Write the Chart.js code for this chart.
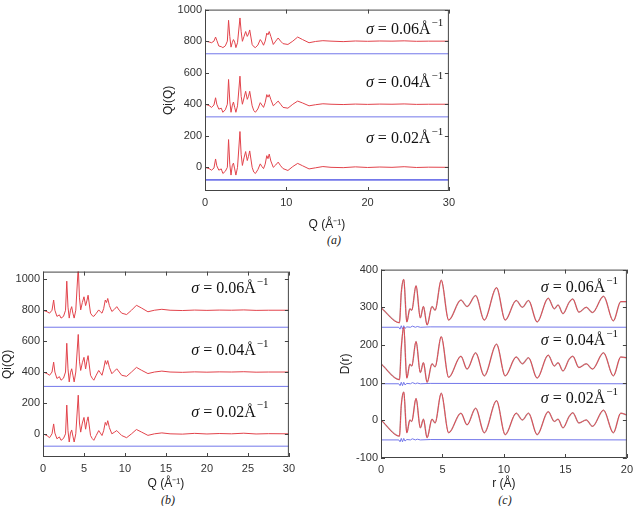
<!DOCTYPE html>
<html>
<head>
<meta charset="utf-8">
<script src="https://cdn.jsdelivr.net/npm/chart.js@4.4.0/dist/chart.umd.min.js"></script>
<style>
  body { margin: 0; background: #fff; width: 640px; height: 506px; position: relative; overflow: hidden; }
  .box { position: absolute; }
  .cap { position: absolute; font: italic 12px "Liberation Serif", serif; color: #222; transform: translate(-50%, -50%); }
</style>
</head>
<body>
<div class="box" style="left:161px;top:0px;width:299px;height:232px"><canvas id="chartA"></canvas></div>
<div class="box" style="left:0px;top:262px;width:300px;height:229px"><canvas id="chartB"></canvas></div>
<div class="box" style="left:338px;top:260px;width:300px;height:231px"><canvas id="chartC"></canvas></div>
<div class="cap" style="left:334px;top:240px">(a)</div>
<div class="cap" style="left:168px;top:500px">(b)</div>
<div class="cap" style="left:505px;top:500px">(c)</div>
<script>
// sigma labels
const sigmas = ['0.06', '0.04', '0.02'];

// Q grid shared by panels (a) and (b)
const qGrid = [0, 0.5, 0.8, 1.1, 1.3, 1.45, 1.7, 2.0, 2.2, 2.5,
  2.75, 2.9, 3.05, 3.2, 3.35, 3.5, 3.65, 3.8, 4.0, 4.3,
  4.45, 4.6, 4.8, 5.0, 5.2, 5.35, 5.5, 5.8, 6.0, 6.2,
  6.5, 6.8, 7.0, 7.2, 7.4, 7.6, 7.75, 7.9, 8.1, 8.4,
  8.7, 9.0, 9.3, 9.6, 10.2, 10.8, 11.4, 12.0, 12.8, 13.6,
  14.5, 15.5, 17, 18.5, 20, 21.5, 23, 24.5, 26, 27.5, 30];

// panel (a): Qi(Q), offset curves
const a06 = [800, 795, 790, 800, 826, 805, 769, 765, 759, 770,
  800, 932, 830, 762, 790, 810, 795, 759, 790, 947,
  860, 799, 830, 861, 830, 845, 871, 779, 765, 759,
  775, 810, 795, 774, 800, 851, 840, 861, 830, 779,
  800, 820, 800, 784, 779, 800, 826, 810, 790, 798,
  803, 800, 797, 801, 799, 801, 800, 802, 799, 800, 800];
const a04 = [400, 392, 380, 395, 441, 400, 369, 375, 349, 365,
  400, 557, 420, 349, 390, 414, 380, 349, 390, 578,
  450, 400, 440, 482, 431, 450, 482, 390, 360, 349,
  370, 410, 395, 380, 410, 461, 445, 461, 430, 390,
  405, 420, 400, 380, 375, 400, 420, 408, 390, 397,
  403, 400, 398, 401, 399, 401, 400, 402, 399, 400, 400];
const a02 = [0, -8, -18, -5, 53, 10, -18, -10, -39, -25,
  0, 176, 20, -49, 10, 27, -10, -49, 0, 227,
  80, 12, 60, 100, 43, 70, 104, 0, -30, -39,
  -15, 22, 5, -8, 20, 74, 55, 84, 40, 0,
  15, 33, 10, -8, -20, 5, 25, 10, -10, -3,
  5, 0, -2, 3, -1, 2, 0, 4, -1, 1, 0];
const aBlue = [720, 320, -80];

// panel (b)
const b06 = [800, 790, 781, 800, 866, 800, 760, 770, 749, 760,
  800, 988, 820, 749, 800, 823, 780, 749, 800, 1080,
  880, 802, 850, 887, 830, 860, 897, 781, 765, 760,
  780, 802, 790, 781, 810, 866, 850, 876, 830, 792,
  805, 823, 800, 781, 772, 800, 832, 815, 790, 800,
  806, 800, 798, 801, 799, 801, 800, 802, 799, 800, 800];
const b04 = [400, 390, 379, 400, 464, 400, 358, 370, 347, 360,
  400, 586, 420, 336, 395, 421, 380, 336, 400, 643,
  470, 410, 460, 495, 420, 470, 506, 379, 360, 347,
  380, 410, 395, 379, 420, 474, 450, 474, 430, 389,
  405, 421, 400, 379, 372, 400, 430, 412, 390, 400,
  406, 400, 398, 401, 399, 401, 400, 402, 399, 400, 400];
const b02 = [0, -12, -25, 0, 64, 5, -32, -20, -42, -30,
  0, 186, 20, -53, 5, 25, -15, -53, 0, 250,
  70, 11, 70, 106, 30, 80, 110, -11, -30, -42,
  -10, 21, 5, -11, 20, 74, 55, 85, 40, 0,
  10, 21, 5, -11, -25, 0, 28, 12, -10, 0,
  6, 0, -2, 3, -1, 2, 0, 4, -1, 1, 0];
const bBlue = [690, 307, -80];

// panel (c): D(r)
const rGrid = [0, 1.5, 1.65, 1.85, 2.1, 2.35, 2.5, 2.85, 3.2, 3.45, 3.75, 4.15, 4.4, 4.9, 5.5, 6.5, 7.0, 7.7, 8.4, 9.4,
  10.1, 11.0, 11.5, 12.0, 12.7, 13.6, 14.1, 14.4, 14.8, 15.3, 15.6, 16.1, 16.7, 17.2, 18.1, 18.9, 19.5, 20];
const c06 = [299, 259, 339, 374, 261, 296, 292, 357, 272, 302, 253, 302, 292, 372, 266, 319, 302, 331, 266, 352,
  266, 318, 300, 318, 261, 324, 296, 306, 283, 313, 322, 287, 300, 286, 329, 264, 315, 315];
const c04 = [150, 108, 192, 247, 112, 149, 144, 209, 127, 153, 101, 150, 142, 222, 114, 170, 136, 179, 118, 202,
  118, 168, 150, 166, 112, 173, 144, 153, 131, 162, 170, 140, 150, 136, 179, 118, 168, 166];
const c02 = [1, -42, 40, 75, -33, 1, -3, 58, -20, 3, -46, 3, -7, 72, -33, 19, -12, 32, -33, 52,
  -38, 19, 1, 19, -38, 23, -3, 3, -20, 10, 20, -7, 1, -16, 27, -33, 19, 14];
const rBlue = [0, 1.45, 1.55, 1.65, 1.75, 1.85, 1.95, 2.1, 2.4, 2.55, 2.8, 2.95, 3.2, 4, 20];
const c06Blue = [247, 247, 242, 251, 242, 251, 244, 248, 247, 250, 247, 249, 247, 248, 247];
const c04Blue = [97, 97, 92, 101, 92, 101, 94, 98, 97, 100, 97, 99, 97, 98, 97];
const c02Blue = [-52, -52, -57, -48, -57, -48, -55, -51, -52, -49, -52, -50, -52, -51, -52];

// tick values
const qTicksA = [0, 10, 20, 30];
const qTicksB = [0, 5, 10, 15, 20, 25, 30];
const qiTicks = [0, 200, 400, 600, 800, 1000];
const rTicks = [0, 5, 10, 15, 20];
const dTicks = [-100, 0, 100, 200, 300, 400];

// label anchor points (data units)
const labA = { x: 19.8, y: [871, 534, 178] };
const labB = { x: 18.1, y: [938, 537, 138] };
const labC = { x: 13.0, y: [351, 210, 57] };

const RED = '#e2434b';
const BLUE = '#7377ea';

const pts = (xs, ys) => xs.map((x, i) => ({ x: x, y: ys[i] }));

const framePlugin = {
  id: 'frame',
  afterDraw(chart) {
    const { ctx, chartArea: a, scales: { x, y } } = chart;
    ctx.save();
    ctx.strokeStyle = '#444';
    ctx.lineWidth = 1;
    ctx.strokeRect(a.left + 0.5, a.top + 0.5, a.right - a.left - 1, a.bottom - a.top - 1);
    ctx.beginPath();
    x.ticks.forEach(t => {
      const p = Math.round(x.getPixelForValue(t.value)) + 0.5;
      ctx.moveTo(p, a.bottom); ctx.lineTo(p, a.bottom - 4);
      ctx.moveTo(p, a.top); ctx.lineTo(p, a.top + 4);
    });
    y.ticks.forEach(t => {
      const p = Math.round(y.getPixelForValue(t.value)) + 0.5;
      ctx.moveTo(a.left, p); ctx.lineTo(a.left + 4, p);
      ctx.moveTo(a.right, p); ctx.lineTo(a.right - 4, p);
    });
    ctx.stroke();

    // sigma labels
    const lab = chart.options.plugins.sigmaLabels;
    const px = x.getPixelForValue(lab.x);
    ctx.fillStyle = '#111';
    ctx.textBaseline = 'middle';
    lab.y.forEach((v, i) => {
      const py = y.getPixelForValue(v);
      let cx = px;
      ctx.font = 'italic 16px "Liberation Serif", serif';
      ctx.fillText('σ', cx, py);
      cx += ctx.measureText('σ').width;
      ctx.font = '16px "Liberation Serif", serif';
      const s = ' = ' + sigmas[i] + 'Å';
      ctx.fillText(s, cx, py);
      cx += ctx.measureText(s).width + 1;
      ctx.font = '11px "Liberation Serif", serif';
      ctx.fillText('−1', cx, py - 7);
    });
    ctx.restore();
  }
};

function makeChart(id, o) {
  const datasets = [];
  o.red.forEach(ys => {
    datasets.push({ data: pts(o.xs, ys), borderColor: o.redColor || RED, borderWidth: 1, order: 1,
      tension: 0, cubicInterpolationMode: o.smooth ? 'monotone' : 'default' });
    if (o.under) {
      datasets.push({ data: pts(o.xs, ys), borderColor: 'rgba(40,20,20,0.3)', borderWidth: 1.5, order: 3,
        cubicInterpolationMode: 'monotone' });
    }
  });
  o.blue.forEach((ys, i) => {
    datasets.push({ data: pts(o.blueX, ys), borderColor: BLUE, borderWidth: o.blueW ? o.blueW[i] : 1, order: 2,
      tension: 0 });
  });
  const tickFont = { family: '"Liberation Sans", Arial, sans-serif', size: 11 };
  const titleFont = { family: '"Liberation Sans", Arial, sans-serif', size: 12 };
  return new Chart(document.getElementById(id), {
    type: 'line',
    data: { datasets: datasets },
    options: {
      responsive: true,
      maintainAspectRatio: false,
      animation: false,
      layout: { padding: { top: o.padTop, right: o.padRight, left: 0, bottom: 0 } },
      elements: { point: { radius: 0 } },
      plugins: { legend: { display: false }, tooltip: { enabled: false }, sigmaLabels: o.labels },
      scales: {
        x: {
          type: 'linear', min: o.xMin, max: o.xMax,
          grid: { display: false, drawTicks: false }, border: { display: false },
          afterBuildTicks: s => { s.ticks = o.xTicks.map(v => ({ value: v })); },
          afterFit: s => { s.height = o.xH; },
          ticks: { padding: 5, color: '#333', font: tickFont, maxRotation: 0, callback: v => String(v) },
          title: { display: true, text: o.xTitle, padding: 0, color: '#222', font: titleFont }
        },
        y: {
          type: 'linear', min: o.yMin, max: o.yMax,
          grid: { display: false, drawTicks: false }, border: { display: false },
          afterBuildTicks: s => { s.ticks = o.yTicks.map(v => ({ value: v })); },
          afterFit: s => { s.width = o.yW; },
          ticks: { padding: 3, color: '#333', font: tickFont, callback: v => String(v) },
          title: { display: true, text: o.yTitle, padding: 0, color: '#222', font: titleFont }
        }
      }
    },
    plugins: [framePlugin]
  });
}

makeChart('chartA', {
  xs: qGrid, red: [a06, a04, a02],
  blueX: [0, 30], blue: aBlue.map(v => [v, v]), blueW: [1, 1, 1.8],
  xMin: 0, xMax: 30, yMin: -150, yMax: 1000, xTicks: qTicksA, yTicks: qiTicks,
  xTitle: 'Q (Å⁻¹)', yTitle: 'Qi(Q)', xH: 41, yW: 44, padTop: 4, padRight: 6, labels: labA
});

makeChart('chartB', {
  xs: qGrid, red: [b06, b04, b02],
  blueX: [0, 30], blue: bBlue.map(v => [v, v]),
  xMin: 0, xMax: 30, yMin: -150, yMax: 1050, xTicks: qTicksB, yTicks: qiTicks,
  xTitle: 'Q (Å⁻¹)', yTitle: 'Qi(Q)', xH: 34, yW: 43, padTop: 5, padRight: 8, labels: labB
});

makeChart('chartC', {
  xs: rGrid, red: [c06, c04, c02], redColor: '#de4650', under: true, smooth: true,
  blueX: rBlue, blue: [c06Blue, c04Blue, c02Blue],
  xMin: 0, xMax: 20, yMin: -100, yMax: 400, xTicks: rTicks, yTicks: dTicks,
  xTitle: 'r (Å)', yTitle: 'D(r)', xH: 33, yW: 43, padTop: 5, padRight: 7, labels: labC
});
</script>
</body>
</html>
